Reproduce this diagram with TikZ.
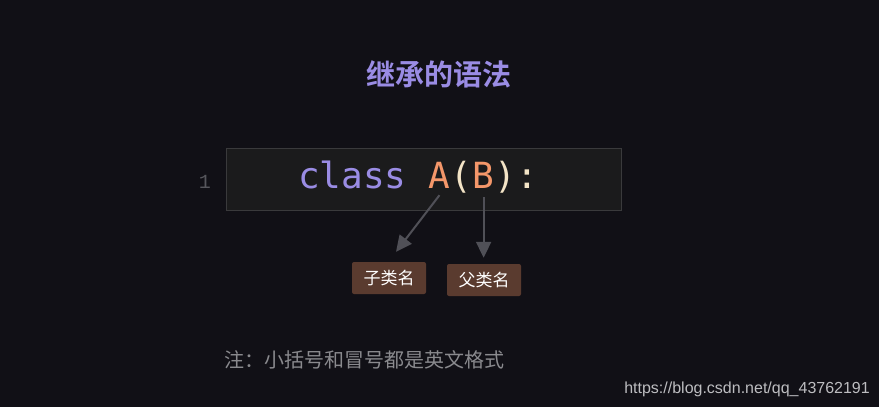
\documentclass[tikz,border=0pt]{standalone}
\usepackage{fontspec}
\usetikzlibrary{arrows.meta,positioning}
\newfontfamily\cjk{Noto Sans CJK SC}
\newfontfamily\cjkbold{Noto Sans CJK SC Bold}
\newfontfamily\codefont{DejaVu Sans Mono}
\newfontfamily\numfont{Liberation Mono}
\newfontfamily\urlfont{Liberation Sans}
\definecolor{bgdark}{HTML}{111016}
\definecolor{codebg}{HTML}{1B1B1C}
\definecolor{codeborder}{HTML}{3A3A3C}
\definecolor{kwpurple}{HTML}{9A8CE4}
\definecolor{clsorange}{HTML}{F4976A}
\definecolor{punccream}{HTML}{F3E4C6}
\definecolor{lineno}{HTML}{56565C}
\definecolor{arrowgray}{HTML}{505057}
\definecolor{tagbrown}{HTML}{5A3B2F}
\definecolor{notegray}{HTML}{8A8A8E}
\definecolor{urlgray}{HTML}{BDBDC0}
\begin{document}
\begin{tikzpicture}[x=1pt,y=-1pt,
    code/.style={inner sep=0,anchor=base west,font=\codefont\fontsize{36pt}{36pt}\selectfont},
    tag/.style={fill=tagbrown,rounded corners=2pt,text=white,minimum width=74pt,minimum height=32pt,inner sep=0,font=\cjk\fontsize{17pt}{17pt}\selectfont},
    conn/.style={draw=arrowgray,line width=2pt,-{Triangle[width=15pt,length=16pt]}}]
    \pgfmathsetmacro{\codeadvance}{0.602*36}
    \fill[bgdark] (0,0) rectangle (879,407);
    \useasboundingbox (0,0) rectangle (879,407);
    % title
    \node[text=kwpurple,font=\cjkbold\fontsize{29pt}{29pt}\selectfont] (title) at (439,74) {继承的语法};
    % code line
    \draw[fill=codebg,draw=codeborder,line width=1pt] (226,148) rectangle (621,210);
    \node[anchor=base east,text=lineno,inner sep=0,font=\numfont\fontsize{20pt}{20pt}\selectfont] (num) at (211,188) {1};
    \node[code,text=kwpurple] (kw) at (298,188) {class};
    \node[code,text=clsorange,xshift=\codeadvance pt] (ca) at (kw.base east) {A};
    \node[code,text=punccream] (lp) at (ca.base east) {(};
    \node[code,text=clsorange] (cb) at (lp.base east) {B};
    \node[code,text=punccream] (rp) at (cb.base east) {)};
    \node[code,text=punccream] (colon) at (rp.base east) {:};
    % labels
    \node[tag] (sub) at (389,278) {子类名};
    \node[tag] (super) at (484,280) {父类名};
    \coordinate (subfrom) at ([yshift=-7pt]ca.south);
    \coordinate (superfrom) at ([yshift=-9pt]cb.south);
    \coordinate (subtip) at ([xshift=7pt,yshift=10pt]sub.north);
    \coordinate (supertip) at ([yshift=6pt]super.north);
    \draw[conn] (subfrom) -- (subtip);
    \draw[conn] (superfrom) -- (superfrom |- supertip);
    % note
    \node[anchor=west,inner sep=0,text=notegray,font=\cjk\fontsize{20pt}{20pt}\selectfont] (note) at (224,360) {注：小括号和冒号都是英文格式};
    \node[anchor=base east,inner sep=0,text=urlgray,font=\urlfont\fontsize{16pt}{16pt}\selectfont] (url) at (870,393) {https://blog.csdn.net/qq\_43762191};
\end{tikzpicture}
\end{document}
